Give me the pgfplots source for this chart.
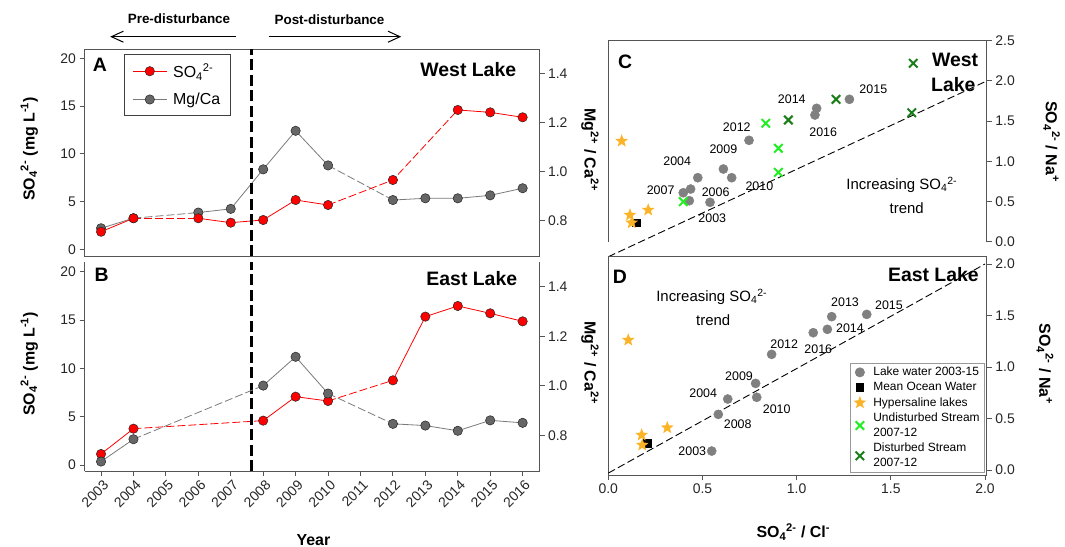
\documentclass[border=0pt]{standalone}
\usepackage{pgfplots}
\pgfplotsset{compat=1.18}
\usepackage{fontspec}
\setmainfont{Liberation Sans}
\usetikzlibrary{arrows.meta}
\definecolor{graym}{HTML}{666666}
\definecolor{grayl}{HTML}{7A7A7A}
\definecolor{scat}{HTML}{808080}
\definecolor{starc}{HTML}{FBB428}
\definecolor{limec}{HTML}{22EE22}
\definecolor{dgreen}{HTML}{187F18}
\definecolor{axc}{HTML}{555555}
\newcommand\SOf{SO\textsubscript{4}\textsuperscript{2-}}
\pgfdeclareplotmark{fstar}{%
  \pgfmathsetlengthmacro\rin{0.42*\pgfplotmarksize}%
  \pgfpathmoveto{\pgfpointpolar{90}{\pgfplotmarksize}}%
  \pgfpathlineto{\pgfpointpolar{126}{\rin}}%
  \pgfpathlineto{\pgfpointpolar{162}{\pgfplotmarksize}}%
  \pgfpathlineto{\pgfpointpolar{198}{\rin}}%
  \pgfpathlineto{\pgfpointpolar{234}{\pgfplotmarksize}}%
  \pgfpathlineto{\pgfpointpolar{270}{\rin}}%
  \pgfpathlineto{\pgfpointpolar{306}{\pgfplotmarksize}}%
  \pgfpathlineto{\pgfpointpolar{342}{\rin}}%
  \pgfpathlineto{\pgfpointpolar{18}{\pgfplotmarksize}}%
  \pgfpathlineto{\pgfpointpolar{54}{\rin}}%
  \pgfpathclose
  \pgfusepathqfill}
\tikzset{yrlab/.style={font=\fontsize{12.5}{14}\selectfont}}
\pgfplotsset{
  base/.style={scale only axis, anchor=south west,
    axis line style={axc, line width=0.9bp, -},
    every tick/.style={axc, line width=0.9bp},
    major tick length=5bp, tick align=outside,
    tick label style={font=\fontsize{14}{16}\selectfont, text=black!85},
    /pgf/number format/assume math mode=true},
  ratioy/.style={yticklabel style={/pgf/number format/fixed, /pgf/number format/fixed zerofill, /pgf/number format/precision=1}},
  ratiox/.style={xticklabel style={/pgf/number format/fixed, /pgf/number format/fixed zerofill, /pgf/number format/precision=1}},
  redl/.style={red, line width=0.8bp},
  grayln/.style={grayl, line width=0.8bp},
  dsh/.style={dash pattern=on 8bp off 3bp},
  redm/.style={only marks, mark=*, mark size=4.7bp, mark options={fill=red, draw=black!85, line width=0.5bp, solid}},
  graymk/.style={only marks, mark=*, mark size=4.7bp, mark options={fill=graym, draw=black!85, line width=0.5bp, solid}},
  vdash/.style={black, line width=2.6bp, dash pattern=on 11bp off 4.5bp},
  scatm/.style={only marks, mark=*, mark size=4.6bp, scat},
  sqm/.style={only marks, mark=square*, mark size=3.8bp, black},
  starm/.style={only marks, mark=fstar, mark size=6.8bp, starc},
  xl/.style={only marks, mark=x, mark size=6bp, line width=2bp, limec},
  xd/.style={only marks, mark=x, mark size=6bp, line width=2bp, dgreen},
}
\begin{document}
\begin{tikzpicture}
\path[use as bounding box] (0bp,0bp) rectangle (1065bp,-547bp);

% ---------------- Panel A, right axis (Mg/Ca)
\begin{axis}[base, ratioy, at={(84.5bp,-256bp)}, width=455bp, height=206.7bp,
  xmin=2002.49, xmax=2016.52, ymin=0.656, ymax=1.498,
  axis y line*=right, axis x line=none, ytick={0.8,1.0,1.2,1.4}]
\addplot[grayln, forget plot] coordinates {(2003,0.769) (2004,0.810)};
\addplot[grayln, dsh, forget plot] coordinates {(2004,0.810) (2006,0.833)};
\addplot[grayln, forget plot] coordinates {(2006,0.833) (2007,0.848) (2008,1.009) (2009,1.166) (2010,1.025)};
\addplot[grayln, dsh, forget plot] coordinates {(2010,1.025) (2012,0.884)};
\addplot[grayln, forget plot] coordinates {(2012,0.884) (2013,0.891) (2014,0.891) (2015,0.903) (2016,0.932)};
\addplot[graymk, forget plot] coordinates {(2003,0.769) (2004,0.810) (2006,0.833) (2007,0.848) (2008,1.009) (2009,1.166) (2010,1.025) (2012,0.884) (2013,0.891) (2014,0.891) (2015,0.903) (2016,0.932)};
\end{axis}

% ---------------- Panel A, left axis (SO4)
\begin{axis}[base, at={(84.5bp,-256bp)}, width=455bp, height=206.7bp,
  xmin=2002.49, xmax=2016.52, ymin=-0.70, ymax=20.94,
  xtick=\empty, ytick={0,5,10,15,20}, ytick pos=left,
  legend image code/.code={\draw[mark repeat=2,mark phase=2,#1] plot coordinates {(0bp,0bp) (17bp,0bp) (34bp,0bp)};},
  legend style={at={(0.0868,0.977)}, anchor=north west, draw=black!75, line width=0.8bp,
    font=\fontsize{16}{18}\selectfont, inner xsep=8bp, inner ysep=7bp, row sep=10bp, column sep=4bp, cells={anchor=west}}]
\addplot[redl, forget plot] coordinates {(2003,1.84) (2004,3.25)};
\addplot[redl, dsh, forget plot] coordinates {(2004,3.25) (2006,3.25)};
\addplot[redl, forget plot] coordinates {(2006,3.25) (2007,2.79) (2008,3.07) (2009,5.16) (2010,4.64)};
\addplot[redl, dsh, forget plot] coordinates {(2010,4.64) (2012,7.26) (2014,14.59)};
\addplot[redl, forget plot] coordinates {(2014,14.59) (2015,14.34) (2016,13.82)};
\addplot[redm, forget plot] coordinates {(2003,1.84) (2004,3.25) (2006,3.25) (2007,2.79) (2008,3.07) (2009,5.16) (2010,4.64) (2012,7.26) (2014,14.59) (2015,14.34) (2016,13.82)};
\addplot[vdash, forget plot] coordinates {(2007.64,-0.70) (2007.64,20.94)};
\addlegendimage{red, line width=0.8bp, mark=*, mark size=4.7bp, mark options={fill=red, draw=black!85, line width=0.5bp}}
\addlegendentry{\SOf}
\addlegendimage{grayl, line width=0.8bp, mark=*, mark size=4.7bp, mark options={fill=graym, draw=black!85, line width=0.5bp}}
\addlegendentry{Mg/Ca}
\end{axis}

% ---------------- Panel B, left axis (SO4)
\begin{axis}[base, at={(84.5bp,-471bp)}, width=455bp, height=209.3bp,
  xmin=2002.49, xmax=2016.52, ymin=-0.62, ymax=21.03,
  axis x line*=bottom, axis y line*=left,
  xtick={2003,2004,2005,2006,2007,2008,2009,2010,2011,2012,2013,2014,2015,2016},
  xticklabels={2003,2004,2005,2006,2007,2008,2009,2010,2011,2012,2013,2014,2015,2016},
  xticklabel style={rotate=45, anchor=north east, xshift=2bp},
  ytick={0,5,10,15,20}]
\addplot[redl] coordinates {(2003,1.14) (2004,3.76)};
\addplot[redl, dsh] coordinates {(2004,3.76) (2008,4.59)};
\addplot[redl] coordinates {(2008,4.59) (2009,7.07) (2010,6.62)};
\addplot[redl, dsh] coordinates {(2010,6.62) (2012,8.76)};
\addplot[redl] coordinates {(2012,8.76) (2013,15.35) (2014,16.45) (2015,15.69) (2016,14.86)};
\addplot[redm] coordinates {(2003,1.14) (2004,3.76) (2008,4.59) (2009,7.07) (2010,6.62) (2012,8.76) (2013,15.35) (2014,16.45) (2015,15.69) (2016,14.86)};
\addplot[vdash] coordinates {(2007.64,-0.62) (2007.64,21.03)};
\end{axis}

% ---------------- Panel B, right axis (Mg/Ca)
\begin{axis}[base, ratioy, at={(84.5bp,-471bp)}, width=455bp, height=209.3bp,
  xmin=2002.49, xmax=2016.52, ymin=0.657, ymax=1.50,
  axis y line*=right, axis x line=none, ytick={0.8,1.0,1.2,1.4}]
\addplot[grayln] coordinates {(2003,0.695) (2004,0.785)};
\addplot[grayln, dsh] coordinates {(2004,0.785) (2008,1.001)};
\addplot[grayln] coordinates {(2008,1.001) (2009,1.117) (2010,0.969)};
\addplot[grayln, dsh] coordinates {(2010,0.969) (2012,0.847)};
\addplot[grayln] coordinates {(2012,0.847) (2013,0.840) (2014,0.819) (2015,0.861) (2016,0.851)};
\addplot[graymk] coordinates {(2003,0.695) (2004,0.785) (2008,1.001) (2009,1.117) (2010,0.969) (2012,0.847) (2013,0.840) (2014,0.819) (2015,0.861) (2016,0.851)};
\end{axis}

% ---------------- Panel C
\begin{axis}[base, ratioy, at={(608.3bp,-241.7bp)}, width=378.6bp, height=201bp,
  xmin=0, xmax=2.01, ymin=0, ymax=2.5,
  axis y line*=right, axis x line=none, ytick={0,0.5,1,1.5,2,2.5}, clip=false]
\draw[axc, line width=0.9bp] (rel axis cs:0,0) -- (rel axis cs:0,1) -- (rel axis cs:1,1);
\addplot[black, line width=0.9bp, dash pattern=on 7.5bp off 3.5bp] coordinates {(0,-0.187) (2.01,2.0)};
\addplot[scatm] coordinates {(0.540,0.49) (0.475,0.796) (0.437,0.655) (0.398,0.609) (0.430,0.51) (0.611,0.904) (0.655,0.796) (0.747,1.261) (1.106,1.659) (1.097,1.576) (1.280,1.771)};
\addplot[sqm] coordinates {(0.147,0.236)};
\addplot[starm] coordinates {(0.071,1.252) (0.115,0.332) (0.124,0.236) (0.212,0.394)};
\addplot[xl] coordinates {(0.398,0.498) (0.836,1.473) (0.903,1.162) (0.903,0.863)};
\addplot[xd] coordinates {(0.956,1.514) (1.209,1.771) (1.619,2.219) (1.611,1.604)};
\node[yrlab] at (axis cs:0.366,1.004) {2004};
\node[yrlab] at (axis cs:0.278,0.643) {2007};
\node[yrlab] at (axis cs:0.570,0.614) {2006};
\node[yrlab] at (axis cs:0.552,0.291) {2003};
\node[yrlab] at (axis cs:0.611,1.153) {2009};
\node[yrlab] at (axis cs:0.802,0.693) {2010};
\node[yrlab] at (axis cs:0.682,1.430) {2012};
\node[yrlab] at (axis cs:0.974,1.771) {2014};
\node[yrlab] at (axis cs:1.141,1.361) {2016};
\node[yrlab] at (axis cs:1.407,1.896) {2015};
\node[font=\fontsize{15}{17}\selectfont] at (axis cs:1.558,0.705) {Increasing \SOf};
\node[font=\fontsize{15}{17}\selectfont] at (axis cs:1.584,0.415) {trend};
\node[font=\bfseries\fontsize{19.5}{22}\selectfont] at (axis cs:1.841,2.26) {West};
\node[font=\bfseries\fontsize{19.5}{22}\selectfont] at (axis cs:1.832,1.949) {Lake};
\node[font=\bfseries\fontsize{19.5}{22}\selectfont] at (axis cs:0.089,2.239) {C};
\end{axis}

% ---------------- Panel D
\begin{axis}[base, ratiox, ratioy, at={(608.3bp,-475bp)}, width=378.6bp, height=218.3bp,
  xmin=0, xmax=2.01, ymin=-0.0485, ymax=2.071,
  xtick={0,0.5,1,1.5,2}, xtick pos=left, ytick={0,0.5,1,1.5,2}, ytick pos=right,
  legend image code/.code={\draw[mark repeat=2,mark phase=2,#1] plot coordinates {(0bp,0bp) (6bp,0bp) (12bp,0bp)};},
  legend style={at={(0.995,0.0105)}, anchor=south east, draw=black!40, line width=0.7bp,
    font=\fontsize{12}{15}\selectfont, cells={align=left, anchor=west}, column sep=5bp, row sep=1.2bp, inner xsep=3bp, inner ysep=2bp}]
\addplot[black, line width=0.9bp, dash pattern=on 7.5bp off 3.5bp, forget plot] coordinates {(0,-0.03) (2.0,2.0)};
\addplot[scatm] coordinates {(0.549,0.184) (0.584,0.54) (0.634,0.689) (0.788,0.706) (0.782,0.841) (0.867,1.123) (1.088,1.333) (1.163,1.366) (1.186,1.489) (1.372,1.511)};
\addlegendentry{Lake water 2003-15}
\addplot[sqm] coordinates {(0.207,0.259)};
\addlegendentry{Mean Ocean Water}
\addplot[starm] coordinates {(0.106,1.262) (0.177,0.34) (0.18,0.243) (0.313,0.411)};
\addlegendentry{Hypersaline lakes}
\addlegendimage{xl}
\addlegendentry{Undisturbed Stream\\2007-12}
\addlegendimage{xd}
\addlegendentry{Disturbed Stream\\2007-12}
\node[yrlab] at (axis cs:0.446,0.178) {2003};
\node[yrlab] at (axis cs:0.687,0.444) {2008};
\node[yrlab] at (axis cs:0.504,0.745) {2004};
\node[yrlab] at (axis cs:0.694,0.906) {2009};
\node[yrlab] at (axis cs:0.894,0.589) {2010};
\node[yrlab] at (axis cs:0.934,1.220) {2012};
\node[yrlab] at (axis cs:1.115,1.175) {2016};
\node[yrlab] at (axis cs:1.283,1.376) {2014};
\node[yrlab] at (axis cs:1.257,1.634) {2013};
\node[yrlab] at (axis cs:1.490,1.602) {2015};
\node[font=\fontsize{15}{17}\selectfont] at (axis cs:0.549,1.683) {Increasing \SOf};
\node[font=\fontsize{15}{17}\selectfont] at (axis cs:0.557,1.456) {trend};
\node[font=\bfseries\fontsize{19.5}{22}\selectfont] at (axis cs:0.062,1.877) {D};
\node[font=\bfseries\fontsize{19.5}{22}\selectfont] at (axis cs:1.726,1.893) {East Lake};
\end{axis}

% ---------------- free text
\node[font=\bfseries\fontsize{19.5}{22}\selectfont] at (99.9bp,-65bp) {A};
\node[font=\bfseries\fontsize{19.5}{22}\selectfont] at (468.3bp,-70bp) {West Lake};
\node[font=\bfseries\fontsize{19.5}{22}\selectfont] at (101.6bp,-275bp) {B};
\node[font=\bfseries\fontsize{19.5}{22}\selectfont] at (471.8bp,-278.3bp) {East Lake};
\node[font=\bfseries\fontsize{13.5}{16}\selectfont] at (179bp,-19bp) {Pre-disturbance};
\node[font=\bfseries\fontsize{13.5}{16}\selectfont] at (329.5bp,-20bp) {Post-disturbance};
\draw[-{Straight Barb[length=12bp,width=11bp]}, line width=1bp] (235.9bp,-36.7bp) -- (110.2bp,-36.7bp);
\draw[-{Straight Barb[length=12bp,width=11bp]}, line width=1bp] (268.6bp,-36.7bp) -- (401.2bp,-36.7bp);
\node[rotate=90, font=\bfseries\fontsize{16}{18}\selectfont] at (29.3bp,-149bp) {\SOf{} (mg L\textsuperscript{-1})};
\node[rotate=90, font=\bfseries\fontsize{16}{18}\selectfont] at (29.3bp,-364bp) {\SOf{} (mg L\textsuperscript{-1})};
\node[rotate=-90, font=\bfseries\fontsize{16}{18}\selectfont] at (590bp,-150bp) {Mg\textsuperscript{2+} / Ca\textsuperscript{2+}};
\node[rotate=-90, font=\bfseries\fontsize{16}{18}\selectfont] at (590bp,-363bp) {Mg\textsuperscript{2+} / Ca\textsuperscript{2+}};
\node[rotate=-90, font=\bfseries\fontsize{16}{18}\selectfont] at (1051.7bp,-141.7bp) {\SOf{} / Na\textsuperscript{+}};
\node[rotate=-90, font=\bfseries\fontsize{16}{18}\selectfont] at (1045bp,-364bp) {\SOf{} / Na\textsuperscript{+}};
\node[font=\bfseries\fontsize{16}{18}\selectfont] at (793.3bp,-531.7bp) {\SOf{} / Cl\textsuperscript{-}};
\node[font=\bfseries\fontsize{16}{18}\selectfont] at (313.4bp,-540bp) {Year};
\end{tikzpicture}
\end{document}
